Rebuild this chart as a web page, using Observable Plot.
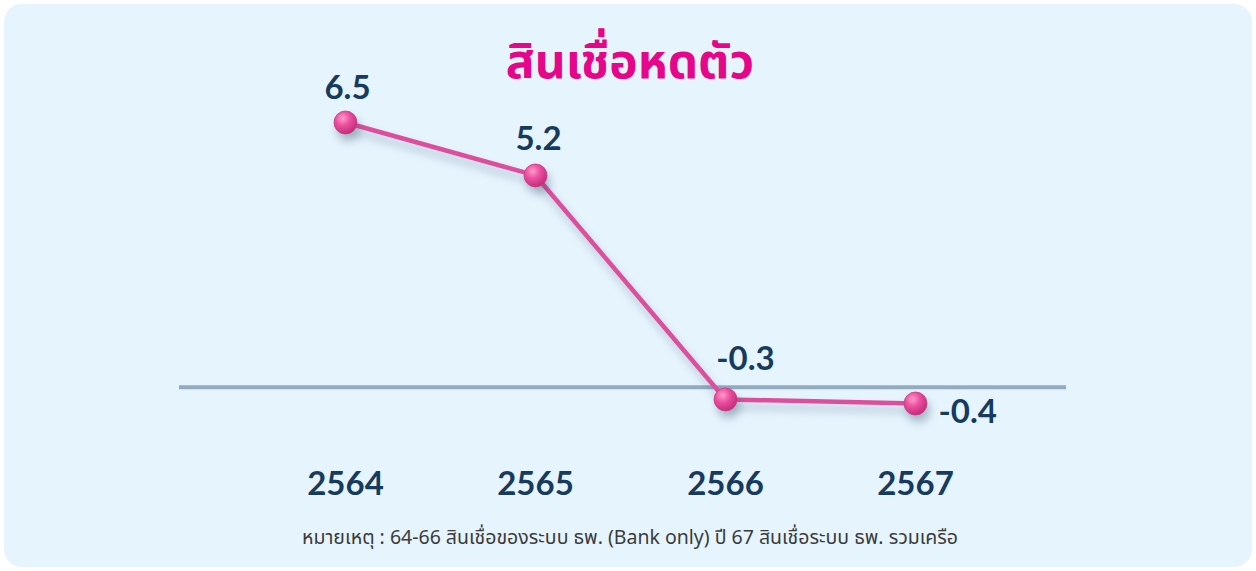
<!DOCTYPE html>
<html><head><meta charset="utf-8">
<script src="https://cdn.jsdelivr.net/npm/d3@7"></script>
<script src="https://cdn.jsdelivr.net/npm/@observablehq/plot@0.6"></script>
<style>
body{margin:0;background:#fff;width:1256px;height:571px;overflow:hidden;position:relative}
#panel{position:absolute;left:4px;top:4px;width:1248px;height:563px;border-radius:18px;background:#e6f4fe}
#title{position:absolute;left:0;top:35px;width:1260px;text-align:center;font-family:"Noto Sans Thai","Kanit","Prompt","Noto Sans",sans-serif;font-weight:700;font-size:48px;color:#e6068a;line-height:1.2}
#chart{position:absolute;left:0;top:60px}
#note{position:absolute;left:0;top:523px;width:1260px;text-align:center;font-family:"Noto Sans Thai","Noto Sans",sans-serif;font-size:19.5px;color:#3b3b3b}
svg g[aria-label="line"]{filter:drop-shadow(3px 7px 4px rgba(40,60,90,0.28))}
svg g[aria-label="dot"]{filter:drop-shadow(3px 7px 4px rgba(40,60,90,0.30))}
</style></head>
<body>
<div id="panel"></div>
<div id="title">สินเชื่อหดตัว</div>
<div id="chart"></div>
<div id="note">หมายเหตุ : 64-66 สินเชื่อของระบบ ธพ. (Bank only) ปี 67 สินเชื่อระบบ ธพ. รวมเครือ</div>
<script>
const years = ["2564", "2565", "2566", "2567"];
const values = [6.5, 5.2, -0.3, -0.4];
const labels = ["6.5", "5.2", "-0.3", "-0.4"];

const data = years.map((y, i) => ({year: y, value: values[i], label: labels[i]}));
const numFont = "Lato, 'Noto Sans', sans-serif";
const navy = "#163b5f";

const chart = Plot.plot({
  width: 1256,
  height: 450,
  marginLeft: 179,
  marginRight: 190,
  marginBottom: 40,
  style: {background: "transparent", overflow: "visible"},
  x: {type: "point", domain: years, range: [344, 915], padding: 0, axis: null},
  y: {domain: [-0.4, 6.5], range: [343, 62], axis: null},
  marks: [
    Plot.ruleY([0], {stroke: "#93abc2", strokeWidth: 4}),
    Plot.line(data, {x: "year", y: "value", stroke: "#dd4f9c", strokeWidth: 4.5, strokeLinejoin: "round"}),
    Plot.dot(data, {x: "year", y: "value", r: 11.5, fill: "url(#ball)", stroke: "#c93d86", strokeWidth: 0.8}),
    Plot.text(data.filter((d, i) => i === 0), {x: "year", y: "value", text: "label", dy: -34, dx: 2, fontSize: 33, fontWeight: 700, fill: navy, fontFamily: numFont}),
    Plot.text(data.filter((d, i) => i === 1), {x: "year", y: "value", text: "label", dy: -36, dx: 3, fontSize: 33, fontWeight: 700, fill: navy, fontFamily: numFont}),
    Plot.text(data.filter((d, i) => i === 2), {x: "year", y: "value", text: "label", dy: -40, dx: 20, fontSize: 33, fontWeight: 700, fill: navy, fontFamily: numFont}),
    Plot.text(data.filter((d, i) => i === 3), {x: "year", y: "value", text: "label", dy: 9, dx: 23, textAnchor: "start", fontSize: 33, fontWeight: 700, fill: navy, fontFamily: numFont}),
    Plot.text(years, {x: d => d, frameAnchor: "bottom", dy: 24, dx: 0, fontSize: 33, fontWeight: 700, fill: navy, fontFamily: numFont})
  ]
});

const defs = d3.select(chart).insert("defs", ":first-child");
const g = defs.append("radialGradient").attr("id", "ball").attr("cx", "38%").attr("cy", "32%").attr("r", "70%");
g.append("stop").attr("offset", "0%").attr("stop-color", "#ff9ccd");
g.append("stop").attr("offset", "45%").attr("stop-color", "#ec4f9f");
g.append("stop").attr("offset", "100%").attr("stop-color", "#c12d78");

document.getElementById("chart").appendChild(chart);
</script>
</body></html>
